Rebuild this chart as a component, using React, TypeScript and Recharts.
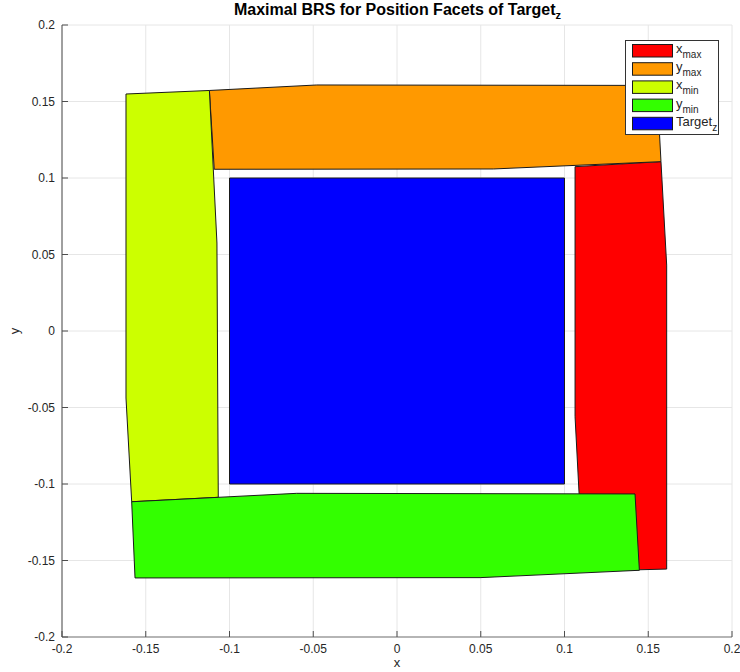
import React from 'react';
import { ScatterChart, Scatter, XAxis, YAxis, CartesianGrid, Legend, Label } from 'recharts';

const FONT = '"Liberation Sans Narrow", "Liberation Sans", Arial, sans-serif';

const xTicks = [-0.2, -0.15, -0.1, -0.05, 0, 0.05, 0.1, 0.15, 0.2];
const yTicks = [-0.2, -0.15, -0.1, -0.05, 0, 0.05, 0.1, 0.15, 0.2];

const seriesNames = ['x_max', 'y_max', 'x_min', 'y_min', 'Target_z'];
const seriesColors = ['#ff0000', '#ff9900', '#ccff00', '#33ff00', '#0000ff'];

const xmaxX = [0.1063, 0.1576, 0.161, 0.161, 0.1104, 0.1087, 0.1063];
const xmaxY = [0.1074, 0.1107, 0.0431, -0.1556, -0.157, -0.1061, -0.056];

const ymaxX = [-0.112, -0.0479, 0.1552, 0.1576, 0.0575, -0.1091];
const ymaxY = [0.1572, 0.1608, 0.1605, 0.1107, 0.1059, 0.1057];

const xminX = [-0.1618, -0.112, -0.1075, -0.1067, -0.1584, -0.1618];
const xminY = [0.1549, 0.1572, 0.0575, -0.1087, -0.1116, -0.0438];

const yminX = [-0.1584, -0.0599, 0.1421, 0.1447, 0.0496, -0.1564];
const yminY = [-0.1116, -0.1061, -0.1065, -0.1564, -0.1612, -0.1614];

const targetX = [-0.1, 0.1, 0.1, -0.1];
const targetY = [-0.1, -0.1, 0.1, 0.1];

const toPoints = (xs: number[], ys: number[]) => xs.map((x, i) => ({ x, y: ys[i] }));

const seriesData = [
  toPoints(xmaxX, xmaxY),
  toPoints(ymaxX, ymaxY),
  toPoints(xminX, xminY),
  toPoints(yminX, yminY),
  toPoints(targetX, targetY),
];

const makePolygon = (color: string) => (props: any) => {
  const pts = (props.points || []) as { x: number; y: number }[];
  return (
    <polygon
      points={pts.map((p) => `${p.x},${p.y}`).join(' ')}
      fill={color}
      stroke="#1a1a1a"
      strokeWidth={1}
      strokeLinejoin="miter"
    />
  );
};

const XTick = (props: any) => {
  const { x, y, payload } = props;
  return (
    <g>
      <line x1={x} x2={x} y1={y} y2={y - 6} stroke="#4d4d4d" strokeWidth={1} />
      <text x={x} y={y + 16} textAnchor="middle" fontSize={12} fill="#262626" fontFamily={FONT}>
        {String(payload.value)}
      </text>
    </g>
  );
};

const YTick = (props: any) => {
  const { x, y, payload } = props;
  return (
    <g>
      <line x1={x} x2={x + 6} y1={y} y2={y} stroke="#4d4d4d" strokeWidth={1} />
      <text x={x - 7} y={y + 4} textAnchor="end" fontSize={12} fill="#262626" fontFamily={FONT}>
        {String(payload.value)}
      </text>
    </g>
  );
};

const renderLegend = (props: any) => {
  const payload = ([...(props.payload || [])] as any[]).sort(
    (a, b) => seriesNames.indexOf(String(a.value)) - seriesNames.indexOf(String(b.value))
  );
  const rowH = 18.2;
  const h = 95;
  const w = 94;
  return (
    <svg width={w} height={h} style={{ display: 'block' }}>
      <rect x={0.5} y={0.5} width={w - 1} height={h - 1} fill="#ffffff" stroke="#333333" strokeWidth={1} />
      {payload.map((entry, i) => {
        const name = String(entry.value);
        const [main, sub] = name.split('_');
        const top = 4 + i * rowH;
        return (
          <g key={name}>
            <rect x={7.5} y={top + 0.5} width={40} height={12.5} fill={entry.color} stroke="#1a1a1a" strokeWidth={1} />
            <text x={51} y={top + 9} fontSize={13} fill="#262626" fontFamily={FONT}>
              {main}
              {sub ? (
                <tspan fontSize={10} dy={5}>
                  {sub}
                </tspan>
              ) : null}
            </text>
          </g>
        );
      })}
    </svg>
  );
};

export default function App() {
  return (
    <div style={{ position: 'absolute', left: 0, top: 0, width: 740, height: 672, background: '#fff' }}>
      <div
        style={{
          position: 'absolute',
          left: 0,
          top: 1,
          width: 795,
          textAlign: 'center',
          fontFamily: FONT,
          fontWeight: 'bold',
          fontSize: 16,
          color: '#000',
          zIndex: 2,
          whiteSpace: 'nowrap',
        }}
      >
        Maximal BRS for Position Facets of Target<sub style={{ fontSize: 11 }}>z</sub>
      </div>
      <ScatterChart width={740} height={672} margin={{ top: 25, right: 8, bottom: 0, left: 0 }}>
        <CartesianGrid stroke="#e6e6e6" strokeWidth={1} />
        <XAxis
          type="number"
          dataKey="x"
          domain={[-0.2, 0.2]}
          ticks={xTicks}
          interval={0}
          allowDataOverflow
          height={35}
          tickSize={0}
          tickMargin={0}
          tick={<XTick />}
          axisLine={{ stroke: '#a0a0a0', strokeWidth: 1.5 }}
        >
          <Label
            content={(p: any) => {
              const vb = p.viewBox;
              return (
                <text x={vb.x + vb.width / 2} y={667} textAnchor="middle" fontSize={13} fill="#262626" fontFamily={FONT}>
                  x
                </text>
              );
            }}
          />
        </XAxis>
        <YAxis
          type="number"
          dataKey="y"
          domain={[-0.2, 0.2]}
          ticks={yTicks}
          interval={0}
          allowDataOverflow
          width={62}
          tickSize={0}
          tickMargin={0}
          tick={<YTick />}
          axisLine={{ stroke: '#4d4d4d', strokeWidth: 1 }}
        >
          <Label
            content={(p: any) => {
              const vb = p.viewBox;
              const cy = vb.y + vb.height / 2;
              return (
                <text
                  x={19}
                  y={cy}
                  textAnchor="middle"
                  fontSize={13}
                  fill="#262626"
                  fontFamily={FONT}
                  transform={`rotate(-90, 19, ${cy})`}
                >
                  y
                </text>
              );
            }}
          />
        </YAxis>
        {seriesData.map((d, i) => (
          <Scatter
            key={seriesNames[i]}
            name={seriesNames[i]}
            data={d}
            fill={seriesColors[i]}
            line={makePolygon(seriesColors[i])}
            lineType="joint"
            shape={() => <g />}
            isAnimationActive={false}
          />
        ))}
        <Legend
          layout="horizontal"
          verticalAlign="middle"
          align="center"
          content={renderLegend}
          wrapperStyle={{ position: 'absolute', left: 625, top: 40, width: 94, height: 95 }}
        />
      </ScatterChart>
    </div>
  );
}
